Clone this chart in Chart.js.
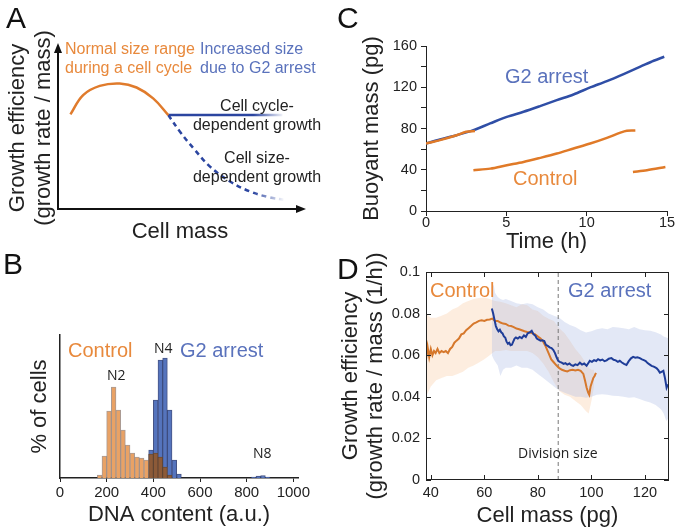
<!DOCTYPE html>
<html>
<head>
<meta charset="utf-8">
<script src="https://cdn.jsdelivr.net/npm/chart.js@4.4.0/dist/chart.umd.min.js"></script>
<style>
body{margin:0;background:#fff;}
#fig{position:relative;width:677px;height:532px;overflow:hidden;font-family:"Liberation Sans",Arial,sans-serif;color:#222;}
#fig canvas{position:absolute;}
.t{position:absolute;white-space:nowrap;line-height:1;}
.letter{font-size:30px;color:#111;}
.or{color:#e8893c;}
.bl{color:#5a72bc;}
.note{font-size:16px;line-height:19px;}
.lab{font-size:20px;}
.os{font-family:"Open Sans",sans-serif;font-size:14px;color:#222;}
</style>
</head>
<body>
<div id="fig">
  <canvas id="cA" width="335" height="248" style="left:0;top:0"></canvas>
  <canvas id="cB" width="335" height="287" style="left:0;top:245px"></canvas>
  <canvas id="cC" width="342" height="256" style="left:335px;top:0"></canvas>
  <canvas id="cD" width="342" height="282" style="left:335px;top:250px"></canvas>

  <div class="t letter" style="left:6px;top:3px">A</div>
  <div class="t letter" style="left:3px;top:249px">B</div>
  <div class="t letter" style="left:337px;top:3px">C</div>
  <div class="t letter" style="left:337px;top:254px">D</div>

  <div class="t note or" style="left:65px;top:39px">Normal size range<br>during a cell cycle</div>
  <div class="t note bl" style="left:200px;top:39px">Increased size<br>due to G2 arrest</div>
  <div class="t note" style="left:187px;top:96px;width:140px;text-align:center">Cell cycle-<br>dependent growth</div>
  <div class="t note" style="left:187px;top:148px;width:140px;text-align:center">Cell size-<br>dependent growth</div>

  <div class="t lab or" style="left:68px;top:340px">Control</div>
  <div class="t lab bl" style="left:180px;top:340px">G2 arrest</div>
  <div class="t os" style="left:154px;top:341px">N4</div>
  <div class="t os" style="left:107px;top:368px">N2</div>
  <div class="t os" style="left:253px;top:446px">N8</div>

  <div class="t lab bl" style="left:505px;top:66px">G2 arrest</div>
  <div class="t lab or" style="left:513px;top:168px">Control</div>

  <div class="t lab or" style="left:430px;top:280px">Control</div>
  <div class="t lab bl" style="left:568px;top:280px">G2 arrest</div>
  <div class="t os" style="left:518px;top:446px">Division size</div>
</div>
<script>
// A: schematic curves (arbitrary units, 0-100)
const normalX = [5.1, 10.3, 17.1, 25.3, 32.2, 39.0, 45.2];
const normalY = [58.4, 70.3, 76.0, 77.5, 75.0, 68.3, 58.0];
const cycleX = [45.2, 92];
const cycleY = [58, 58];
const sizeX = [45.2, 50.0, 55.5, 62.3, 70.5, 78.7, 86.9, 92.4];
const sizeY = [58.0, 47.7, 37.5, 26.2, 17.0, 10.8, 7.1, 5.7];

// B: DNA content histogram (bin start, bin width 20)
const ctrlBins = [160,180,200,220,240,260,280,300,320,340,360,380,400,420,440,460];
const ctrlCounts = [3,22,67,91,68,48,33,25,21,20,18,24,25,21,11,3];
const g2Bins = [380,400,420,440,460,480,500,820,840,860,880];
const g2Counts = [28,78,118,120,68,18,4,1,2,2.5,1];

// C: buoyant mass vs time
const g2Time = [0,0.87,1.9,2.95,3.99,5.03,6.07,7.1,8.14,9.18,10.22,11.26,12.3,13.34,14.17,14.83];
const g2Mass = [65.4,69.3,73.5,78.4,84.9,91.3,96.2,101.7,107.5,113,119.8,126,132.8,139.9,145.7,149.6];
const ctrlTime1 = [0,0.87,1.9,2.5,3.05];
const ctrlMass1 = [65.4,68.7,73.5,76.8,77.6];
const ctrlTime2 = [2.95,4,5.03,6.07,7.1,8.14,9.18,10.22,11.26,12.1,12.5,13.03];
const ctrlMass2 = [39.5,41.1,44.4,47.6,51.5,55.7,60.6,65.4,70.9,76.0,77.8,78.0];
const ctrlTime3 = [12.88,13.75,14.9];
const ctrlMass3 = [37.9,39.5,42.6];

// D: growth efficiency vs cell mass
const ctrlCellMass = [38.2,38.8,39.4,40,40.6,41.2,41.8,42.5,43.2,44,44.8,45.6,46.4,47.2,48,48.8,49.6,50.5,51.4,52.3,53.2,54.1,55,56,57,58,59,60,61,62,63,64,65,66,67,68,69,70,71,72,73,74,75,76,77,78,79,80,81,82,83,84,85,86,87,88,89,90,91,92,93,94,95,96,97,97.6,98.2,98.8,99.2,99.7,100.2,100.7,101.2,101.7];
const ctrlEff = [0.058,0.064,0.059,0.063,0.060,0.062,0.061,0.063,0.061,0.062,0.0615,0.062,0.061,0.063,0.064,0.066,0.067,0.068,0.070,0.0705,0.072,0.073,0.074,0.0752,0.0758,0.0765,0.0768,0.0765,0.077,0.0772,0.0776,0.0765,0.0765,0.0757,0.0752,0.075,0.0742,0.074,0.0735,0.0728,0.0725,0.072,0.0715,0.0712,0.071,0.0705,0.070,0.069,0.068,0.0665,0.064,0.061,0.058,0.0565,0.055,0.0538,0.053,0.0525,0.0522,0.0528,0.053,0.0527,0.053,0.0525,0.051,0.048,0.0445,0.042,0.041,0.045,0.047,0.049,0.050,0.0515];
const g2CellMass = [62.8,63.3,63.8,64.3,64.8,65.3,65.8,66.3,66.8,67.3,67.8,68.3,68.8,69.3,69.8,70.3,70.8,71.3,71.8,72.5,73.2,74,74.8,75.5,76.2,77,77.7,78.4,79,79.6,80.3,81,81.7,82.4,83,83.7,84.4,85.1,85.8,86.4,87,87.6,88.2,88.9,89.6,90.3,91,91.8,92.5,93.2,94,94.8,95.7,96.5,97.3,98.2,99,99.4,100.2,101,101.8,102.5,103.3,104.1,104.9,105.7,106.5,107.5,108.3,109.1,109.9,110.6,111.4,112.2,113.1,113.9,114.8,115.6,116.4,117.2,118.1,118.9,119.6,120.3,121,121.7,122.5,123.3,124,124.4,125,125.6,126.2,126.9,127.5,128.1,128.6];
const g2Eff = [0.0824,0.080,0.077,0.074,0.0725,0.0715,0.0722,0.071,0.0705,0.069,0.0685,0.0665,0.0655,0.066,0.0648,0.065,0.0665,0.068,0.0685,0.068,0.0688,0.0682,0.0695,0.0688,0.0705,0.071,0.0717,0.070,0.0695,0.068,0.0675,0.067,0.0672,0.0668,0.065,0.0645,0.0638,0.0634,0.0625,0.061,0.059,0.0573,0.0568,0.0564,0.0558,0.0562,0.0555,0.056,0.0552,0.0549,0.0556,0.0552,0.0564,0.0555,0.056,0.0549,0.0565,0.0573,0.0568,0.0576,0.0572,0.0581,0.0575,0.0579,0.0571,0.0575,0.0583,0.0586,0.0578,0.0575,0.0568,0.0573,0.0565,0.0558,0.0553,0.057,0.0585,0.0592,0.0588,0.059,0.0586,0.058,0.0576,0.0572,0.0562,0.0556,0.0549,0.0545,0.054,0.0537,0.0528,0.0516,0.052,0.0525,0.049,0.0444,0.046];
const ctrlBandMass = [38.2,40,42,44,46,48,50,52,54,56,58,60,62,64,66,68,70,72,74,76,78,80,82,84,86,88,90,92,94,96,98,99,100,101];
const ctrlBandHi = [0.080,0.078,0.078,0.079,0.080,0.082,0.083,0.085,0.086,0.087,0.0875,0.0877,0.087,0.086,0.0857,0.085,0.084,0.083,0.0845,0.084,0.082,0.0813,0.079,0.0775,0.0765,0.073,0.0705,0.067,0.063,0.060,0.056,0.054,0.053,0.053];
const ctrlBandLo = [0.040,0.045,0.048,0.049,0.050,0.050,0.051,0.052,0.054,0.055,0.0565,0.058,0.060,0.062,0.062,0.0625,0.062,0.062,0.062,0.062,0.061,0.059,0.056,0.052,0.047,0.0428,0.041,0.040,0.038,0.036,0.033,0.032,0.038,0.045];
const g2BandMass = [62.8,63.5,64,65,66,67,68,70,72,74,76,78,80,82,84,86,88,90,92,94,96,98,100,102,104,106,108,110,112,114,116,118,120,122,124,126,127,128,129];
const g2BandHi = [0.092,0.094,0.090,0.088,0.087,0.0865,0.087,0.086,0.085,0.0845,0.085,0.0845,0.083,0.082,0.080,0.079,0.078,0.076,0.0745,0.0735,0.072,0.0709,0.0715,0.0725,0.073,0.0725,0.0735,0.0733,0.073,0.0725,0.0735,0.0725,0.072,0.0717,0.071,0.070,0.069,0.0685,0.068];
const g2BandLo = [0.060,0.058,0.057,0.055,0.050,0.053,0.054,0.054,0.055,0.054,0.054,0.053,0.051,0.049,0.047,0.045,0.043,0.042,0.041,0.040,0.040,0.0396,0.040,0.041,0.0412,0.041,0.0405,0.0404,0.040,0.0396,0.0398,0.039,0.038,0.0372,0.036,0.034,0.032,0.0284,0.030];
const divisionSize = 87.6;

Chart.defaults.font.family = '"Liberation Sans", Arial, sans-serif';
Chart.defaults.color = '#222';

function pts(xs, ys) { return xs.map((x, i) => ({x: x, y: ys[i]})); }
function binPts(bins, counts) { return bins.map((b, i) => ({x: b + 10, y: counts[i]})); }
function fixW(w) { return s => { s.width = w; }; }
function fixH(h) { return s => { s.height = h; }; }
const base = {
    responsive: false, animation: false, devicePixelRatio: 1,
    plugins: {legend: {display: false}, tooltip: {enabled: false}}
};

// fade the blue lines toward the right end
function fadeBlue(c) {
    const ch = c.chart;
    if (!ch.chartArea) return '#2b45a0';
    const x = ch.scales.x;
    const g = ch.ctx.createLinearGradient(x.getPixelForValue(80), 0, x.getPixelForValue(93), 0);
    g.addColorStop(0, 'rgba(43,69,160,1)');
    g.addColorStop(1, 'rgba(43,69,160,0)');
    return g;
}

const arrowHeads = {
    id: 'arrowHeads',
    afterDraw(ch) {
        const {ctx, chartArea: a} = ch;
        ctx.save();
        ctx.fillStyle = '#111';
        ctx.beginPath();
        ctx.moveTo(a.left, a.top - 4); ctx.lineTo(a.left - 4, a.top + 6); ctx.lineTo(a.left + 4, a.top + 6);
        ctx.fill();
        ctx.beginPath();
        ctx.moveTo(a.right + 4, a.bottom); ctx.lineTo(a.right - 6, a.bottom - 4); ctx.lineTo(a.right - 6, a.bottom + 4);
        ctx.fill();
        ctx.restore();
    }
};

// box around panel D with inward ticks
const boxTicks = {
    id: 'boxTicks',
    afterDraw(ch) {
        const {ctx, chartArea: a, scales: {x, y}} = ch;
        ctx.save();
        ctx.strokeStyle = '#222';
        ctx.lineWidth = 1;
        ctx.strokeRect(a.left + 0.5, a.top + 0.5, a.right - a.left - 1, a.bottom - a.top - 1);
        ctx.beginPath();
        x.ticks.forEach(t => {
            const p = Math.round(x.getPixelForValue(t.value)) + 0.5;
            ctx.moveTo(p, a.bottom); ctx.lineTo(p, a.bottom - 5);
            ctx.moveTo(p, a.top); ctx.lineTo(p, a.top + 5);
        });
        y.ticks.forEach(t => {
            const p = Math.round(y.getPixelForValue(t.value)) + 0.5;
            ctx.moveTo(a.left, p); ctx.lineTo(a.left + 5, p);
            ctx.moveTo(a.right, p); ctx.lineTo(a.right - 5, p);
        });
        ctx.stroke();
        ctx.restore();
    }
};

// ---- A ----
new Chart(document.getElementById('cA'), {
    type: 'line',
    data: {datasets: [
        {data: pts(normalX, normalY), borderColor: '#e07b2c', borderWidth: 2.5, tension: 0.4, pointRadius: 0},
        {data: pts(cycleX, cycleY), borderColor: fadeBlue, borderWidth: 2.5, pointRadius: 0},
        {data: pts(sizeX, sizeY), borderColor: fadeBlue, borderWidth: 2.5, borderDash: [5, 4], tension: 0.4, pointRadius: 0}
    ]},
    options: Object.assign({}, base, {
        layout: {padding: {left: 0, top: 47, right: 33, bottom: 0}},
        scales: {
            x: {type: 'linear', min: 0, max: 100, grid: {display: false}, ticks: {display: false},
                border: {color: '#111', width: 2},
                title: {display: true, text: 'Cell mass', font: {size: 22}, padding: {top: 0, bottom: 3}},
                afterFit: fixH(39)},
            y: {min: 0, max: 100, grid: {display: false}, ticks: {display: false},
                border: {color: '#111', width: 2},
                title: {display: true, text: ['Growth efficiency', '(growth rate / mass)'], font: {size: 22, lineHeight: 1.18}, padding: {top: 5, bottom: 0}},
                afterFit: fixW(58)}
        }
    }),
    plugins: [arrowHeads]
});

// ---- B ----
const overlapCounts = g2Bins.map((b, i) => {
    const k = ctrlBins.indexOf(b);
    return k < 0 ? 0 : Math.min(g2Counts[i], ctrlCounts[k]);
});
const barOpts = {grouped: false, barPercentage: 1, categoryPercentage: 1, borderWidth: 1};
new Chart(document.getElementById('cB'), {
    type: 'bar',
    data: {datasets: [
        Object.assign({data: binPts(g2Bins, overlapCounts), backgroundColor: '#8c5a38', borderColor: 'rgba(90,60,40,0.8)', order: 0}, barOpts),
        Object.assign({data: binPts(ctrlBins, ctrlCounts), backgroundColor: '#e9a265', borderColor: 'rgba(150,130,120,0.8)', order: 1}, barOpts),
        Object.assign({data: binPts(g2Bins, g2Counts), backgroundColor: '#5574bd', borderColor: 'rgba(50,65,120,0.9)', order: 2}, barOpts)
    ]},
    options: Object.assign({}, base, {
        layout: {padding: {left: 0, top: 90, right: 37, bottom: 0}},
        scales: {
            x: {type: 'linear', min: 0, max: 1020, offset: false,
                afterBuildTicks: s => { s.ticks = [0, 200, 400, 600, 800, 1000].map(v => ({value: v})); },
                grid: {drawOnChartArea: false, tickLength: 4, color: '#222', offset: false},
                border: {color: '#222', width: 1.5},
                ticks: {font: {size: 15}, padding: 2, maxRotation: 0, autoSkip: false, callback: v => String(v)},
                title: {display: true, text: 'DNA content (a.u.)', font: {size: 22}, padding: {top: 0, bottom: 4}},
                afterFit: fixH(54)},
            y: {min: 0, max: 143, grid: {display: false}, ticks: {display: false},
                border: {color: '#222', width: 1.5},
                title: {display: true, text: '% of cells', font: {size: 22}, padding: {top: 27, bottom: 0}},
                afterFit: fixW(60)}
        }
    })
});

// ---- C ----
const lineC = (xs, ys, col, ord) => ({data: pts(xs, ys), borderColor: col, borderWidth: 2.5, pointRadius: 0, tension: 0.3, order: ord});
new Chart(document.getElementById('cC'), {
    type: 'line',
    data: {datasets: [
        lineC(ctrlTime1, ctrlMass1, '#e07a28', 0),
        lineC(ctrlTime2, ctrlMass2, '#e07a28', 0),
        lineC(ctrlTime3, ctrlMass3, '#e07a28', 0),
        lineC(g2Time, g2Mass, '#2f4ea6', 1)
    ]},
    options: Object.assign({}, base, {
        layout: {padding: {left: 0, top: 46, right: 10, bottom: 0}},
        scales: {
            x: {type: 'linear', min: 0, max: 15,
                ticks: {stepSize: 5, font: {size: 14.5}, padding: -2, maxRotation: 0},
                grid: {drawOnChartArea: false, tickLength: 5, color: '#222'},
                border: {color: '#222', width: 1},
                title: {display: true, text: 'Time (h)', font: {size: 22}, padding: {top: 0, bottom: 1}},
                afterFit: fixH(45)},
            y: {min: 0, max: 160,
                ticks: {stepSize: 20, font: {size: 14.5}, padding: 4, callback: v => v % 40 === 0 ? v : ''},
                grid: {drawOnChartArea: false, tickLength: 5, color: '#222'},
                border: {color: '#222', width: 1},
                title: {display: true, text: 'Buoyant mass (pg)', font: {size: 22}, padding: {top: 24, bottom: 0}},
                afterFit: fixW(91)}
        }
    })
});

// ---- D ----
new Chart(document.getElementById('cD'), {
    type: 'line',
    data: {datasets: [
        {data: pts(ctrlBandMass, ctrlBandHi), borderWidth: 0, pointRadius: 0, fill: '+1', backgroundColor: 'rgba(250,195,150,0.3)', order: 5},
        {data: pts(ctrlBandMass, ctrlBandLo), borderWidth: 0, pointRadius: 0, fill: false, order: 5},
        {data: pts(g2BandMass, g2BandHi), borderWidth: 0, pointRadius: 0, fill: '+1', backgroundColor: 'rgba(170,185,228,0.33)', order: 4},
        {data: pts(g2BandMass, g2BandLo), borderWidth: 0, pointRadius: 0, fill: false, order: 4},
        {data: [{x: divisionSize, y: 0}, {x: divisionSize, y: 0.1}], borderColor: '#777', borderWidth: 1, borderDash: [4, 3], pointRadius: 0, order: 3},
        {data: pts(ctrlCellMass, ctrlEff), borderColor: '#d6782c', borderWidth: 2, pointRadius: 0, order: 1},
        {data: pts(g2CellMass, g2Eff), borderColor: '#1f3d98', borderWidth: 2, pointRadius: 0, order: 0}
    ]},
    options: Object.assign({}, base, {
        layout: {padding: {left: 0, top: 22, right: 8, bottom: 0}},
        scales: {
            x: {type: 'linear', min: 38.2, max: 129,
                afterBuildTicks: s => { s.ticks = [40, 60, 80, 100, 120].map(v => ({value: v})); },
                grid: {display: false, drawTicks: false}, border: {display: false},
                ticks: {font: {size: 14.5}, padding: 4, maxRotation: 0},
                title: {display: true, text: 'Cell mass (pg)', font: {size: 22}, padding: {top: 0, bottom: 3}},
                afterFit: fixH(52)},
            y: {min: 0, max: 0.1,
                ticks: {stepSize: 0.02, font: {size: 14.5}, padding: 6,
                        callback: v => v === 0 ? '0' : (Math.abs(v - 0.1) < 1e-9 ? '0.1' : v.toFixed(2))},
                grid: {display: false, drawTicks: false}, border: {display: false},
                title: {display: true, text: ['Growth efficiency', '(growth rate / mass (1/h))'], font: {size: 22, lineHeight: 1.14}, padding: {top: 3, bottom: 0}},
                afterFit: fixW(91)}
        }
    }),
    plugins: [boxTicks]
});
</script>
</body>
</html>
